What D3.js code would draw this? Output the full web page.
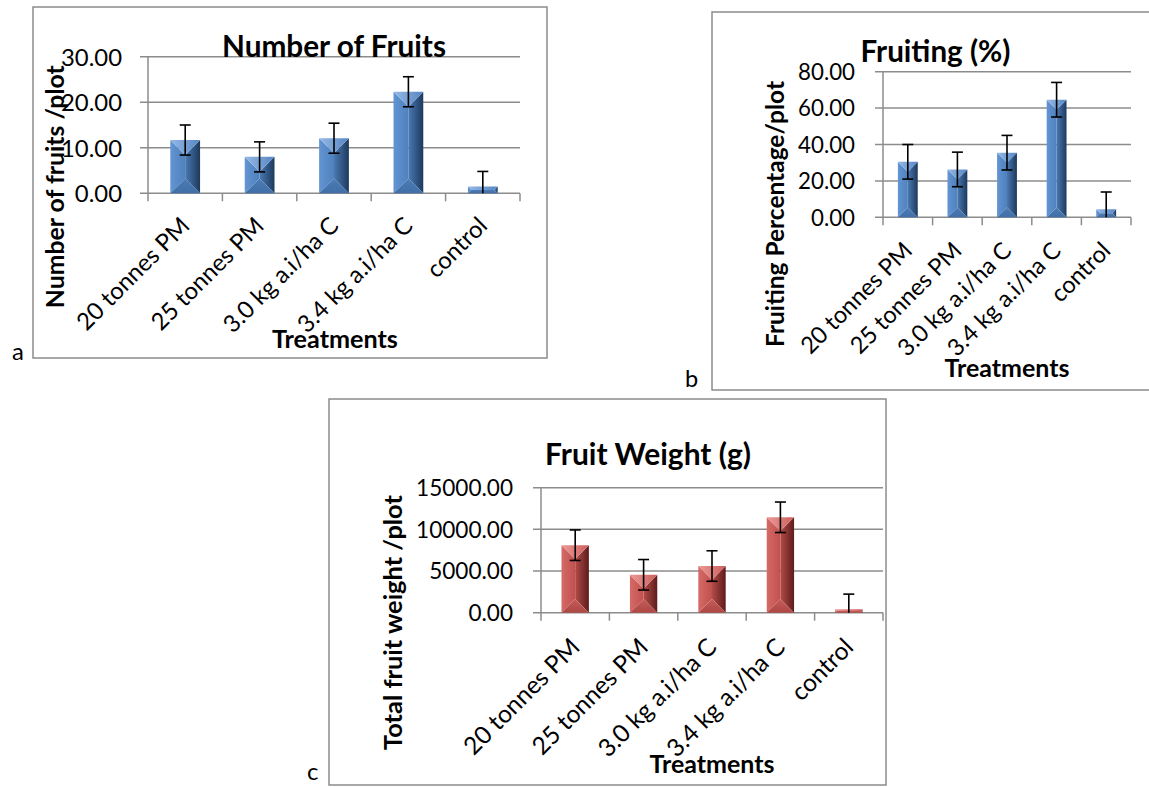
<!DOCTYPE html>
<html><head><meta charset="utf-8">
<script src="https://cdn.jsdelivr.net/npm/d3@7"></script>
<style>body{margin:0;background:#fff} svg{display:block}</style>
</head><body>
<svg id="chart" width="1149" height="787"></svg>
<script>
// ---------------- DATA ----------------
const categories = ["20 tonnes PM", "25 tonnes PM", "3.0 kg a.i/ha C", "3.4 kg a.i/ha C", "control"];

const fruitsValues = [11.7, 8.0, 12.1, 22.3, 1.5];
const fruitsErrors = [3.3, 3.3, 3.3, 3.3, 3.3];
const fruitsTicks = [0, 10, 20, 30];

const fruitingValues = [30.5, 26.3, 35.5, 64.6, 4.4];
const fruitingErrors = [9.5, 9.5, 9.5, 9.5, 9.5];
const fruitingTicks = [0, 20, 40, 60, 80];

const weightValues = [8100, 4550, 5600, 11450, 400];
const weightErrors = [1830, 1830, 1830, 1830, 1830];
const weightTicks = [0, 5000, 10000, 15000];

const titles = ["Number of Fruits", "Fruiting (%)", "Fruit Weight (g)"];
const yTitles = ["Number of fruits /plot", "Fruiting Percentage/plot", "Total fruit weight /plot"];
const xTitle = "Treatments";
const panelLetters = ["a", "b", "c"];

// ---------------- LAYOUT ----------------
const layouts = [
  { box:[33,7,547,358], plot:[148,56.7,520,193.3], tickRight:122, tickW:61,
    title:[334,57,224], yTitle:[55,186.7,243], xTitleP:[335,348,126], xlabOff:28, xlabW:148, letter:[12,360], pal:"blue" },
  { box:[712,12,1165,390], plot:[883,71.7,1131,217.3], tickRight:855, tickW:57,
    title:[935.5,62,150], yTitle:[775,214,266], xTitleP:[1007,377,125], xlabOff:29, xlabW:146, letter:[685,387], pal:"blue" },
  { box:[329,399,886,785], plot:[541,487.7,883,612.7], tickRight:513, tickW:97,
    title:[648,465,206], yTitle:[393,622.5,255], xTitleP:[712,773,125], xlabOff:30, xlabW:152, letter:[307,780], pal:"red" }
];
const seriesVals = [fruitsValues, fruitingValues, weightValues];
const seriesErrs = [fruitsErrors, fruitingErrors, weightErrors];
const seriesTicks = [fruitsTicks, fruitingTicks, weightTicks];

const FONT = "Lato, 'Open Sans', 'DejaVu Sans', sans-serif";
const GRID = "#8c8c8c";
const svg = d3.select("#chart");

function measure(txt, weight, size) {
  const t = svg.append("text").attr("font-family", FONT).attr("font-weight", weight)
    .attr("font-size", size).text(txt);
  const w = t.node().getComputedTextLength(); t.remove(); return w;
}
function fit(txt, weight, target) { return 100 * target / measure(txt, weight, 100); }

// gradients
const defs = svg.append("defs");
const palettes = {
  blue: { left:["#6394d3","#4f81bd"], right:["#4a79b2","#1d395d"], top:["#95b9e6","#5686c3"], bottom:["#4c7cb6","#416ea6"] },
  red:  { left:["#d56a67","#c0504d"], right:["#b44b48","#5c1c1b"], top:["#eb9a97","#cc5f5c"], bottom:["#c55c59","#ad4744"] }
};
Object.entries(palettes).forEach(([name, p]) => {
  Object.entries(p).forEach(([facet, cols]) => {
    const vertical = (facet === "bottom");
    const lg = defs.append("linearGradient").attr("id", `g-${name}-${facet}`)
      .attr("x1", 0).attr("y1", 0).attr("x2", vertical ? 0 : 1).attr("y2", vertical ? 1 : 0);
    lg.append("stop").attr("offset", "0%").attr("stop-color", cols[0]);
    lg.append("stop").attr("offset", "100%").attr("stop-color", cols[1]);
  });
});

const fmt = d3.format(".2f");

layouts.forEach((L, ci) => {
  const vals = seriesVals[ci], errs = seriesErrs[ci], ticks = seriesTicks[ci];
  const g = svg.append("g");
  const [px0, pyTop, px1, py0] = L.plot;

  // box
  g.append("rect").attr("x", L.box[0]).attr("y", L.box[1])
    .attr("width", L.box[2] - L.box[0]).attr("height", L.box[3] - L.box[1])
    .attr("fill", "none").attr("stroke", GRID).attr("stroke-width", 1.5);

  const y = d3.scaleLinear().domain([0, d3.max(ticks)]).range([py0, pyTop]);
  const x = d3.scaleBand().domain(categories).range([px0, px1]).padding(0);

  // gridlines + left tick marks
  g.append("g").selectAll("line").data(ticks).join("line")
    .attr("x1", px0 - 8).attr("x2", px1).attr("y1", d => y(d)).attr("y2", d => y(d))
    .attr("stroke", GRID).attr("stroke-width", 1.5);
  // vertical axis
  g.append("line").attr("x1", px0).attr("x2", px0).attr("y1", pyTop).attr("y2", py0)
    .attr("stroke", GRID).attr("stroke-width", 1.5);
  // category boundary ticks
  const bounds = d3.range(categories.length + 1).map(i => px0 + i * x.step());
  g.append("g").selectAll("line").data(bounds).join("line")
    .attr("x1", d => d).attr("x2", d => d).attr("y1", py0).attr("y2", py0 + 8)
    .attr("stroke", GRID).attr("stroke-width", 1.5);

  // y tick labels via axis
  const widest = fmt(d3.max(ticks));
  const tickSize = fit(widest, "normal", L.tickW);
  const ax = g.append("g").attr("transform", `translate(${px0},0)`)
    .call(d3.axisLeft(y).tickValues(ticks).tickFormat(fmt).tickSize(0).tickPadding(px0 - L.tickRight));
  ax.select(".domain").remove();
  ax.selectAll("text").attr("font-family", FONT).attr("font-size", tickSize).attr("fill", "#000").attr("dy", "0.35em");

  // bars
  const bw = x.bandwidth() * 0.4;
  const pal = L.pal;
  vals.forEach((v, i) => {
    const xL = x(categories[i]) + (x.bandwidth() - bw) / 2, xR = xL + bw;
    const yT = y(v), yB = y(0);
    const d = Math.min(bw / 2, (yB - yT) / 2);
    const bg = g.append("g");
    const poly = (pts, facet) => bg.append("polygon").attr("points", pts.map(p => p.join(",")).join(" "))
      .attr("fill", `url(#g-${pal}-${facet})`);
    poly([[xL,yT],[xL+d,yT+d],[xL+d,yB-d],[xL,yB]], "left");
    poly([[xR,yT],[xR-d,yT+d],[xR-d,yB-d],[xR,yB]], "right");
    if (bw > 2 * d) bg.append("rect").attr("x", xL + d).attr("y", yT + d).attr("width", bw - 2*d)
      .attr("height", Math.max(0, yB - yT - 2*d)).attr("fill", palettes[pal].left[1]);
    poly([[xL,yT],[xR,yT],[xR-d,yT+d],[xL+d,yT+d]], "top");
    poly([[xL,yB],[xR,yB],[xR-d,yB-d],[xL+d,yB-d]], "bottom");
  });

  // error bars
  const cap = 5.5;
  vals.forEach((v, i) => {
    const cx = x(categories[i]) + x.bandwidth() / 2;
    const hi = v + errs[i], lo = Math.max(0, v - errs[i]);
    g.append("line").attr("x1", cx).attr("x2", cx).attr("y1", y(hi)).attr("y2", y(lo))
      .attr("stroke", "#000").attr("stroke-width", 1.6);
    g.append("line").attr("x1", cx - cap).attr("x2", cx + cap).attr("y1", y(hi)).attr("y2", y(hi))
      .attr("stroke", "#000").attr("stroke-width", 1.6);
    if (v - errs[i] > 0)
      g.append("line").attr("x1", cx - cap).attr("x2", cx + cap).attr("y1", y(lo)).attr("y2", y(lo))
        .attr("stroke", "#000").attr("stroke-width", 1.6);
  });

  // x labels rotated
  const xlabSize = fit(categories[0], "normal", L.xlabW);
  g.append("g").selectAll("text").data(categories).join("text")
    .attr("transform", d => `translate(${x(d) + x.bandwidth()/2},${py0 + L.xlabOff}) rotate(-45)`)
    .attr("text-anchor", "end").attr("dy", "0.35em")
    .attr("font-family", FONT).attr("font-size", xlabSize).attr("fill", "#000").text(d => d);

  // chart title
  g.append("text").attr("x", L.title[0]).attr("y", L.title[1]).attr("text-anchor", "middle")
    .attr("font-family", FONT).attr("font-weight", "bold")
    .attr("font-size", fit(titles[ci], "bold", L.title[2])).attr("fill", "#000").text(titles[ci]);

  // y title
  g.append("text").attr("transform", `translate(${L.yTitle[0]},${L.yTitle[1]}) rotate(-90)`)
    .attr("text-anchor", "middle").attr("dy", "0.35em")
    .attr("font-family", FONT).attr("font-weight", "bold")
    .attr("font-size", fit(yTitles[ci], "bold", L.yTitle[2])).attr("fill", "#000").text(yTitles[ci]);

  // x title
  g.append("text").attr("x", L.xTitleP[0]).attr("y", L.xTitleP[1]).attr("text-anchor", "middle")
    .attr("font-family", FONT).attr("font-weight", "bold")
    .attr("font-size", fit(xTitle, "bold", L.xTitleP[2])).attr("fill", "#000").text(xTitle);

  // panel letter
  g.append("text").attr("x", L.letter[0]).attr("y", L.letter[1])
    .attr("font-family", FONT).attr("font-size", Math.min(xlabSize, 24)).attr("fill", "#000").text(panelLetters[ci]);
});
</script>
</body></html>
